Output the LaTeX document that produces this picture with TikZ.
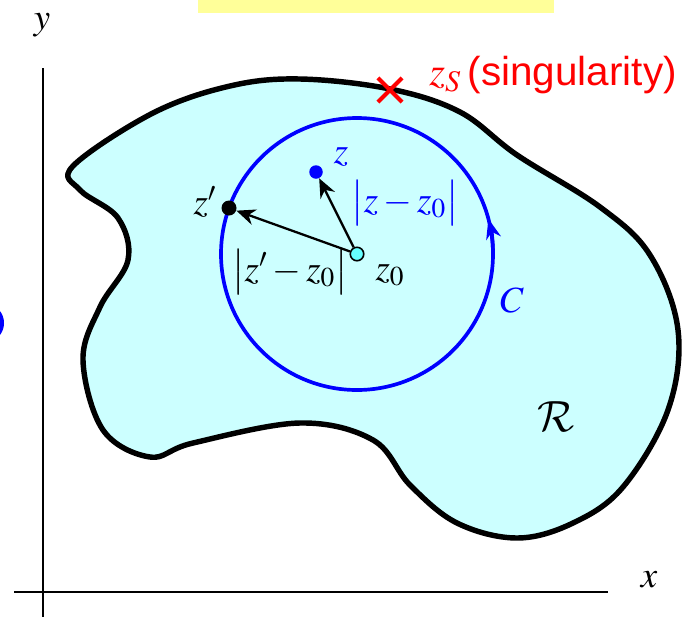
\documentclass[tikz,border=0pt]{standalone}
\usepackage{mathptmx}
\DeclareMathAlphabet{\mathcal}{OMS}{cmsy}{m}{n}
\usepackage{fontspec}
\newfontfamily\arialfont{Liberation Sans}
\usetikzlibrary{arrows.meta,shapes.misc}
\definecolor{regfill}{HTML}{CCFFFF}
\definecolor{memo}{HTML}{FFFF99}
\definecolor{centre}{HTML}{66FFFF}

\begin{document}
\begin{tikzpicture}[x=0.02cm,y=-0.02cm,line join=round,>=Stealth,
  font=\fontsize{21}{25}\selectfont]
\tikzset{axis/.style={line width=0.9pt},
  dot/.style={circle,inner sep=0pt,minimum size=0.27cm},
  vec/.style={line width=1.3pt,-{Stealth[length=3.8mm,width=3.2mm]}}}
\useasboundingbox (0,0) rectangle (683,616);
% ---- bits cut by the frame ----
\fill[memo] (198,-5) rectangle (554,13);
\fill[blue] (-10,323) ellipse [x radius=14, y radius=17];
% ---- axes ----
\coordinate (ytop) at (43,68);
\coordinate (ybot) at (43,620);
\coordinate (xl) at (14,592);
\coordinate (xr) at (608,592);
\draw[axis] (ytop) -- (ybot);
\draw[axis] (xl) -- (xr);
\node (ylab) at (42,25) {$y$};
\node (xlab) at (649,580) {$x$};
% ---- region R ----
\draw[line width=3.1pt,fill=regfill] plot[smooth cycle,tension=0.6] coordinates {
  (73,166) (153,113) (230,86) (300,79) (390,89) (460,112) (517,155)
  (600,207) (650,255) (678,330) (668,410) (623,487) (573,523) (517,538)
  (457,523) (410,485) (373,440) (300,423) (193,443) (150,457) (103,430)
  (83,360) (100,307) (128,260) (118,218) (80,190)};
\node (rlab) at (556,417) {\fontsize{32}{36}\selectfont$\mathcal{R}$};
% ---- contour C ----
\node[dot,draw,fill=centre,line width=0.9pt] (z0) at (357,254) {};
\draw[blue,line width=2.1pt] (z0) circle (136);
\draw[blue,line width=2.1pt,-{Stealth[length=4mm,width=3mm]}]
  ([shift={(0:136)}]z0.center) arc (0:-15:136);
\node[blue] (clab) at (512,300) {$C$};
% ---- points and vectors ----
\node[dot,fill=blue] (z) at (316,172) {};
\node[dot,fill=black,minimum size=0.3cm] (zp) at (229,208) {};
\draw[vec] (z0) -- (z);
\draw[vec] (z0) -- (zp);
\node[blue] (zlab) at (341,157) {$z$};
\node (zplab) at (205,202) {$z'$};
\node[blue] (dz) at (405,203) {$\bigl|z-z_0\bigr|$};
\node (dzp) at (290,272) {$\bigl|z'-z_0\bigr|$};
\node (z0lab) at (390,275) {$z_0$};
% ---- singularity ----
\node[cross out,draw=red,line width=2.4pt,minimum size=0.4cm,inner sep=0pt] (zs) at (390,90) {};
\node[red,anchor=west,inner sep=0pt,font=\fontsize{23}{27}\selectfont] (zslab) at (429,75)
  {$z_S$\,{\arialfont (singularity)}};
\end{tikzpicture}
\end{document}
